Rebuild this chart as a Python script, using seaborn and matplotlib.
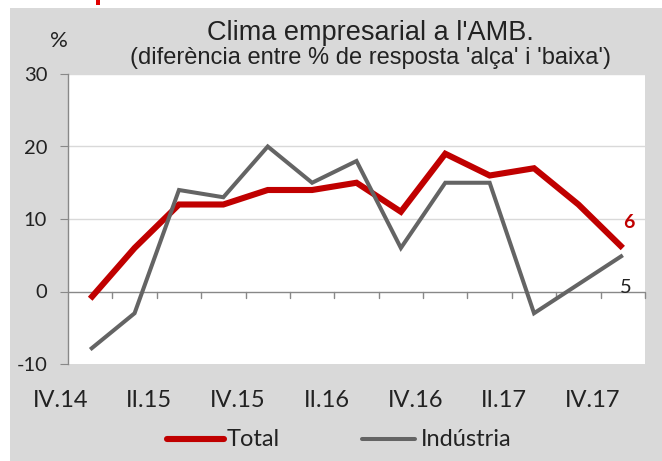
import matplotlib
matplotlib.use("Agg")
import matplotlib.pyplot as plt
from matplotlib.patches import Rectangle
from matplotlib.transforms import ScaledTranslation
import pandas as pd
import seaborn as sns

# quarters IV.14 .. IV.17
quarters = ["IV.14", "I.15", "II.15", "III.15", "IV.15", "I.16", "II.16",
            "III.16", "IV.16", "I.17", "II.17", "III.17", "IV.17"]
total = [-1, 6, 12, 12, 14, 14, 15, 11, 19, 16, 17, 12, 6]
industria = [-8, -3, 14, 13, 20, 15, 18, 6, 15, 15, -3, 1, 5]
tick_labels = ["IV.14", "", "II.15", "", "IV.15", "", "II.16", "", "IV.16", "", "II.17", "", "IV.17"]

df = pd.DataFrame({"pos": range(len(quarters)), "Total": total, "Indústria": industria})
df = df.melt(id_vars="pos", var_name="serie", value_name="valor")

RED = "#C00000"
GREY = "#646464"
TXT = "#222222"

sns.set_style("white")
plt.rcParams["font.family"] = ["Lato", "DejaVu Sans"]
plt.rcParams["axes.unicode_minus"] = False

fig = plt.figure(figsize=(6.62, 4.61), dpi=100, facecolor="white")
# grey panel behind the chart
fig.patches.append(Rectangle((10 / 662, 0), 1, (461 - 8) / 461, transform=fig.transFigure,
                             facecolor="#D9D9D9", edgecolor="none", zorder=-10))
fig.patches.append(Rectangle((96 / 662, (461 - 5) / 461), 4 / 662, 5 / 461, transform=fig.transFigure,
                             facecolor="#E00000", edgecolor="none", zorder=-10))

ax = fig.add_axes([68 / 662, (461 - 364) / 461, (645 - 68) / 662, (364 - 74) / 461])
ax.set_facecolor("white")

sns.lineplot(data=df, x="pos", y="valor", hue="serie", ax=ax,
             palette={"Total": RED, "Indústria": GREY},
             hue_order=["Total", "Indústria"], legend=False)
lines = ax.get_lines()
lines[0].set_linewidth(4.4)
lines[0].set_zorder(3)
lines[1].set_linewidth(2.9)
lines[1].set_zorder(4)
for ln in lines:
    ln.set_solid_capstyle("butt")
    ln.set_solid_joinstyle("miter")

ax.set_xlim(-0.5, len(quarters) - 0.5)
ax.set_ylim(-10, 30)
ax.set_yticks([-10, 0, 10, 20, 30])
ax.set_xticks(range(len(quarters)))
ax.set_xticklabels(tick_labels)
ax.tick_params(axis="x", length=0, pad=19, labelsize=17, colors=TXT)
ax.tick_params(axis="y", length=6, width=0.8, color="#888888", pad=9, labelsize=14.5,
               labelcolor=TXT, left=True)
shift = ScaledTranslation(-30 / 100, 0, fig.dpi_scale_trans)
for lab in ax.get_xticklabels():
    lab.set_transform(lab.get_transform() + shift)
ax.set_xlabel("")
ax.set_ylabel("")

for y in [10, 20, 30]:
    ax.axhline(y, color="#D9D9D9", lw=1, zorder=1)
ax.axhline(0, color="#888888", lw=1, zorder=2)
# category boundary ticks on the zero line
for i in range(len(quarters)):
    ax.plot([i + 0.5, i + 0.5], [0, -0.95], color="#888888", lw=1, zorder=2, clip_on=False)

for s in ["top", "right", "bottom"]:
    ax.spines[s].set_visible(False)
ax.spines["left"].set_color("#888888")
ax.spines["left"].set_linewidth(1)

ax.text(12.14, 9.5, "6", color=RED, fontsize=14, fontweight="bold", ha="center", va="center")
ax.text(12.07, 0.6, "5", color=TXT, fontsize=14.5, ha="center", va="center")

fig.text(370 / 662, 1 - 40 / 461, "Clima empresarial a l'AMB.", ha="center", va="baseline",
         fontsize=19.5, family=["Liberation Sans"], color=TXT)
fig.text(370 / 662, 1 - 64 / 461, "(diferència entre % de resposta 'alça' i 'baixa')", ha="center",
         va="baseline", fontsize=17, family=["Liberation Sans"], color=TXT)
fig.text(59 / 662, 1 - 41 / 461, "%", ha="center", va="center", fontsize=16, color=TXT)

# legend
ly = 1 - 439 / 461
fig.lines.append(plt.Line2D([167 / 662, 224 / 662], [ly, ly], transform=fig.transFigure,
                            color=RED, lw=4.4, solid_capstyle="round"))
fig.text(227 / 662, ly, "Total", va="center", fontsize=17, color=TXT)
fig.lines.append(plt.Line2D([362 / 662, 415 / 662], [ly, ly], transform=fig.transFigure,
                            color=GREY, lw=2.9, solid_capstyle="round"))
fig.text(421 / 662, ly, "Indústria", va="center", fontsize=17, color=TXT)

fig.savefig("out.png", dpi=100, facecolor="white")
